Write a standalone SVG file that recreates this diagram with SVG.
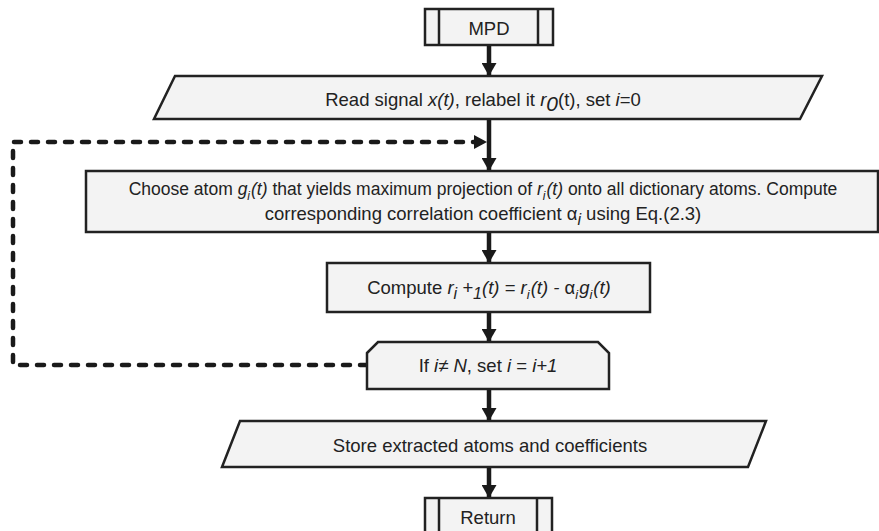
<svg xmlns="http://www.w3.org/2000/svg" width="879" height="531" viewBox="0 0 879 531">
<defs>
<marker id="ah" viewBox="0 0 13 15" refX="13" refY="7.5" markerWidth="13" markerHeight="15" markerUnits="userSpaceOnUse" orient="auto">
<path d="M0,0 L13,7.5 L0,15 Z" fill="#1a1a1a"/>
</marker>
<style>
.shape{fill:#f3f3f3;stroke:#222;stroke-width:2.5;stroke-linejoin:miter}
.ln{fill:none;stroke:#222;stroke-width:2.5}
.arrow{fill:none;stroke:#1a1a1a;stroke-width:4.5}
.dash{fill:none;stroke:#1a1a1a;stroke-width:4.5;stroke-dasharray:7 10;stroke-linecap:round}
text{font-family:"Liberation Sans",Arial,sans-serif;font-size:18.5px;fill:#222;text-anchor:middle}
text.small{font-size:17.5px}
.i{font-style:italic}
</style>
</defs>
<g id="connectors">
<line class="arrow" x1="489" y1="45" x2="489" y2="76" marker-end="url(#ah)"/>
<line class="arrow" x1="489" y1="119" x2="489" y2="171" marker-end="url(#ah)"/>
<line class="arrow" x1="489" y1="232" x2="489" y2="263" marker-end="url(#ah)"/>
<line class="arrow" x1="489" y1="312" x2="489" y2="342" marker-end="url(#ah)"/>
<line class="arrow" x1="489" y1="389" x2="489" y2="421" marker-end="url(#ah)"/>
<line class="arrow" x1="489" y1="467" x2="489" y2="498" marker-end="url(#ah)"/>
<path class="dash" d="M367,365 L13,365 L13,142 L474,142"/>
<path d="M474,135 L487,142 L474,149 Z" fill="#1a1a1a"/>
</g>
<g id="mpd">
<rect class="shape" x="425" y="9" width="128" height="36"/>
<line class="ln" x1="439" y1="9" x2="439" y2="45"/>
<line class="ln" x1="538" y1="9" x2="538" y2="45"/>
<text x="489" y="35">MPD</text>
</g>
<g id="read">
<polygon class="shape" points="175,76 822,76 800,119 154,119"/>
<text x="483" y="106">Read signal <tspan class="i">x(t)</tspan>, relabel it <tspan class="i">r</tspan><tspan class="i" dy="5" font-size="21">0</tspan><tspan dy="-5">(t), set </tspan><tspan class="i">i</tspan>=0</text>
</g>
<g id="choose">
<rect class="shape" x="86" y="171" width="792" height="61"/>
<text class="small" x="483" y="195">Choose atom <tspan class="i">g</tspan><tspan class="i" dy="5" font-size="12">i</tspan><tspan class="i" dx="1" dy="-5">(t)</tspan> that yields maximum projection of <tspan class="i">r</tspan><tspan class="i" dy="5" font-size="12">i</tspan><tspan class="i" dx="1" dy="-5">(t)</tspan> onto all dictionary atoms. Compute</text>
<text x="483" y="220">corresponding correlation coefficient α<tspan class="i" dy="5" font-size="16">i</tspan><tspan dy="-5"> using Eq.(2.3)</tspan></text>
</g>
<g id="compute">
<rect class="shape" x="327" y="263" width="323" height="49"/>
<text x="489" y="294">Compute <tspan class="i">r</tspan><tspan class="i" dy="5" font-size="16">i</tspan><tspan class="i" dy="-5"> +</tspan><tspan class="i" dy="5" font-size="16">1</tspan><tspan class="i" dy="-5">(t) = r</tspan><tspan class="i" dy="5" font-size="13">i</tspan><tspan class="i" dx="1" dy="-5">(t) - </tspan>α<tspan class="i" dy="5" font-size="13">i</tspan><tspan class="i" dx="1" dy="-5">g</tspan><tspan class="i" dy="5" font-size="13">i</tspan><tspan class="i" dx="1" dy="-5">(t)</tspan></text>
</g>
<g id="ifnode">
<polygon class="shape" points="367,353 378,342 598,342 609,353 609,389 367,389"/>
<text x="488" y="372">If <tspan class="i">i</tspan>≠ <tspan class="i">N</tspan>, set <tspan class="i">i</tspan> = <tspan class="i">i+1</tspan></text>
</g>
<g id="store">
<polygon class="shape" points="240,421 766,421 748,467 222,467"/>
<text x="490" y="452">Store extracted atoms and coefficients</text>
</g>
<g id="return">
<rect class="shape" x="425" y="498" width="127" height="40"/>
<line class="ln" x1="439" y1="498" x2="439" y2="538"/>
<line class="ln" x1="537" y1="498" x2="537" y2="538"/>
<text x="488" y="524">Return</text>
</g>
</svg>
